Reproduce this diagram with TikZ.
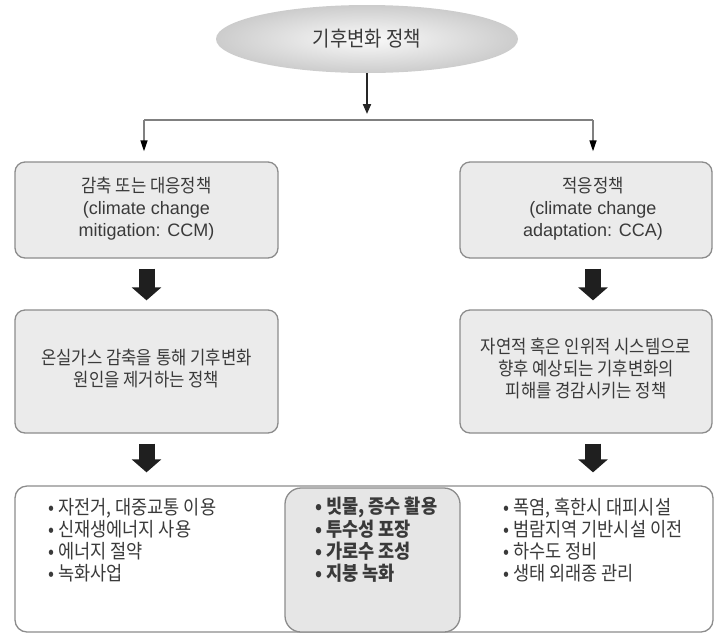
\documentclass[tikz,border=0pt]{standalone}
\usepackage{fontspec}
\setmainfont{Noto Sans CJK KR}[FakeStretch=0.9]
\newfontfamily\lat{Liberation Sans}
\usetikzlibrary{arrows.meta,shapes.geometric}
\definecolor{txt}{HTML}{3A3A3A}
\definecolor{boxfill}{HTML}{EBEBEB}
\definecolor{boxline}{HTML}{8C8C8C}
\definecolor{midfill}{HTML}{E6E6E6}
\newcommand{\bul}{•\hspace{4pt}}
\begin{document}
\begin{tikzpicture}[x=1pt,y=-1pt,
  box/.style={draw=boxline, line width=1.3pt, fill=boxfill, rounded corners=10pt, inner sep=0pt, text=txt, font=\fontsize{18.5}{22}\selectfont},
  hline/.style={draw=black!50, line width=1.8pt},
  drop/.style={draw=black!50, line width=1.5pt, -{Triangle[length=11pt,width=7pt,black]}},
  big/.style={draw=black!88, line width=16pt, -{Triangle[length=13pt,width=29pt]}},
  list/.style={anchor=west, inner sep=0pt, text=txt, font=\fontsize{19.5}{19.7}\selectfont}
]
\useasboundingbox (0,0) rectangle (714,633);

% top ellipse
\node[ellipse, minimum width=302pt, minimum height=68pt, inner color=gray!4, outer color=gray!40,
      text=txt, font=\fontsize{21}{22}\selectfont] (top) at (367,39) {기후변화 정책};

\coordinate (hub) at (368,120);
\coordinate (jl) at (144,120);
\coordinate (jr) at (593,120);

% first row boxes
\node[box, minimum width=263pt, minimum height=96pt] (b1l) at (146.5,210)
  {\begin{tabular}{@{}c@{}}감축 또는 대응정책\\ \lat\fontsize{18}{22}\selectfont(climate change\\ \lat\fontsize{18}{22}\selectfont mitigation: CCM)\end{tabular}};
\node[box, minimum width=252pt, minimum height=96pt] (b1r) at (586,210)
  {\hspace*{14pt}\begin{tabular}{@{}c@{}}적응정책\\ \lat\fontsize{18}{22}\selectfont(climate change\\ \lat\fontsize{18}{22}\selectfont adaptation: CCA)\end{tabular}};

% second row boxes
\node[box, minimum width=263pt, minimum height=123pt] (b2l) at (146.5,371.5)
  {\begin{tabular}{@{}c@{}}온실가스 감축을 통해 기후변화\\ 원인을 제거하는 정책\end{tabular}};
\node[box, minimum width=252pt, minimum height=123pt] (b2r) at (586,371.5)
  {\begin{tabular}{@{}c@{}}자연적 혹은 인위적 시스템으로\\ 향후 예상되는 기후변화의\\ 피해를 경감시키는 정책\end{tabular}};

% bottom boxes
\node[draw=boxline, line width=1.3pt, fill=white, rounded corners=12pt,
      minimum width=698pt, minimum height=146pt, inner sep=0pt] (bot) at (364,559) {};
\node[draw=boxline, line width=1.3pt, fill=midfill, rounded corners=16pt,
      minimum width=175pt, minimum height=144pt, inner sep=0pt] (mid) at (372.5,560) {};

\node[list] (ll) at (48,542) {\begin{tabular}{@{}l@{}}\bul 자전거, 대중교통 이용\\ \bul 신재생에너지 사용\\ \bul 에너지 절약\\ \bul 녹화사업\end{tabular}};
\node[list, font=\fontsize{19.5}{19.7}\selectfont\bfseries] (ml) at (315,542) {\begin{tabular}{@{}l@{}}\bul 빗물, 증수 활용\\ \bul 투수성 포장\\ \bul 가로수 조성\\ \bul 지붕 녹화\end{tabular}};
\node[list] (rl) at (503,542) {\begin{tabular}{@{}l@{}}\bul 폭염, 혹한시 대피시설\\ \bul 범람지역 기반시설 이전\\ \bul 하수도 정비\\ \bul 생태 외래종 관리\end{tabular}};

% connectors
\draw[line width=2pt, draw=black!85, -{Triangle[length=10pt,width=8pt]}, shorten >=6pt]
  (top.south) -- (top.south |- hub);
\draw[hline] (jl) -- (jr);
\draw[drop, shorten >=10pt] (jl) -- (jl |- b1l.north);
\draw[drop, shorten >=10pt] (jr) -- (jr |- b1r.north);

\draw[big, shorten <=10pt, shorten >=9pt] (b1l.south) -- (b2l.north);
\draw[big, shorten <=10pt, shorten >=9pt] (jr |- b1r.south) -- (jr |- b2r.north);
\draw[big, shorten <=10pt, shorten >=13pt] (b2l.south) -- (b2l.south |- bot.north);
\draw[big, shorten <=10pt, shorten >=13pt] (jr |- b2r.south) -- (jr |- bot.north);
\end{tikzpicture}
\end{document}
